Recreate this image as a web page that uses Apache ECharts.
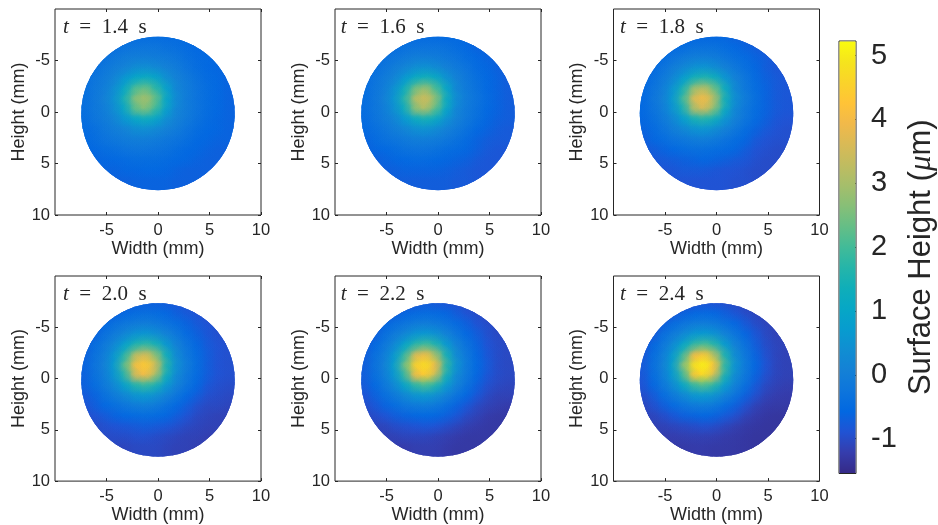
<!DOCTYPE html>
<html><head><meta charset="utf-8">
<style>html,body{margin:0;padding:0;background:#fff}#c{width:938px;height:525px}</style>
<script src="https://cdn.jsdelivr.net/npm/echarts@6/dist/echarts.min.js"></script></head>
<body><div id="c"></div>
<script>
const timeLabels = ['1.4','1.6','1.8','2.0','2.2','2.4'];
const axisTicks = [-5,0,5,10];
const barTicks = [-1,0,1,2,3,4,5];
const barRange = [-1.547,5.23];
const diskCentre = [0,0.15], diskRadius = 7.45;
// surface height (um); rows y=-7..7, each row centred on x=0, 1 mm spacing
const height14 = [
[-.5,-.45,-.45,-.45,-.45,-.5,-.5,-.55,-.6],
[-.45,-.4,-.3,-.25,-.25,-.25,-.35,-.4,-.5,-.55,-.6],
[-.45,-.35,-.2,-.1,-.05,-.05,-.1,-.15,-.25,-.4,-.5,-.55,-.6],
[-.5,-.4,-.2,-.05,.1,.35,.4,.25,.05,-.1,-.3,-.45,-.55,-.6,-.65],
[-.45,-.25,-.1,.15,.6,1,1.2,.95,.4,.05,-.15,-.35,-.5,-.55,-.65],
[-.4,-.2,-.05,.4,1.1,2.1,2.35,1.7,.85,.15,-.1,-.3,-.45,-.55,-.65],
[-.4,-.2,.05,.5,1.5,2.7,3,2.3,1,.25,-.1,-.3,-.45,-.55,-.65],
[-.4,-.2,-.05,.4,1.1,2.3,2.65,1.9,.85,.15,-.1,-.3,-.45,-.55,-.65],
[-.45,-.25,-.1,.15,.6,1,1.2,.95,.4,.05,-.15,-.35,-.5,-.6,-.65],
[-.5,-.4,-.2,-.05,.1,.35,.4,.25,.05,-.1,-.3,-.45,-.55,-.6,-.65],
[-.55,-.45,-.3,-.2,-.1,-.05,-.05,-.1,-.2,-.3,-.4,-.55,-.6,-.65,-.65],
[-.6,-.55,-.45,-.4,-.3,-.25,-.25,-.3,-.35,-.45,-.55,-.6,-.65,-.7,-.7],
[-.65,-.6,-.55,-.5,-.45,-.45,-.45,-.5,-.55,-.6,-.65,-.7,-.7],
[-.65,-.65,-.6,-.6,-.55,-.55,-.6,-.65,-.7,-.7,-.7],
[-.7,-.7,-.65,-.65,-.65,-.65,-.7,-.7,-.7]];
const height16 = [
[-.55,-.5,-.5,-.5,-.5,-.55,-.55,-.6,-.7],
[-.5,-.45,-.35,-.3,-.3,-.3,-.35,-.45,-.55,-.65,-.7],
[-.5,-.35,-.25,-.15,-.05,-.05,-.1,-.2,-.3,-.45,-.55,-.65,-.7],
[-.55,-.4,-.25,-.05,.15,.4,.45,.3,.05,-.15,-.3,-.5,-.6,-.7,-.75],
[-.5,-.3,-.1,.15,.65,1.15,1.4,1.1,.45,.05,-.2,-.4,-.55,-.65,-.75],
[-.45,-.25,-.05,.45,1.3,2.45,2.85,2,1,.15,-.15,-.35,-.55,-.65,-.75],
[-.45,-.25,.05,.6,1.7,3.2,3.5,2.7,1.2,.3,-.1,-.3,-.5,-.65,-.75],
[-.45,-.25,-.05,.45,1.3,2.75,3.15,2.2,1,.15,-.15,-.35,-.55,-.65,-.75],
[-.5,-.3,-.1,.15,.65,1.15,1.4,1.1,.45,.05,-.2,-.4,-.6,-.7,-.75],
[-.55,-.4,-.25,-.05,.15,.4,.45,.3,.05,-.15,-.35,-.55,-.65,-.75,-.8],
[-.65,-.5,-.35,-.25,-.15,-.05,-.05,-.1,-.2,-.35,-.5,-.65,-.75,-.8,-.8],
[-.7,-.6,-.55,-.45,-.35,-.3,-.3,-.35,-.45,-.5,-.6,-.7,-.8,-.85,-.85],
[-.75,-.65,-.6,-.55,-.5,-.5,-.55,-.6,-.65,-.7,-.8,-.85,-.85],
[-.75,-.7,-.65,-.65,-.65,-.65,-.7,-.75,-.8,-.85,-.85],
[-.75,-.75,-.75,-.75,-.75,-.75,-.8,-.8,-.85]];
const height18 = [
[-.65,-.6,-.6,-.6,-.6,-.6,-.7,-.75,-.85],
[-.6,-.5,-.45,-.35,-.35,-.35,-.45,-.55,-.65,-.75,-.85],
[-.6,-.45,-.3,-.15,-.05,-.05,-.1,-.25,-.4,-.5,-.65,-.75,-.85],
[-.65,-.5,-.3,-.05,.2,.45,.55,.35,.05,-.2,-.4,-.6,-.75,-.85,-.9],
[-.6,-.4,-.15,.2,.75,1.4,1.6,1.3,.55,.05,-.25,-.5,-.7,-.8,-.85],
[-.55,-.3,-.05,.55,1.5,2.85,3.2,2.35,1.2,.2,-.2,-.45,-.65,-.8,-.85],
[-.55,-.25,.05,.7,2,3.7,4,3.1,1.4,.35,-.1,-.4,-.65,-.8,-.85],
[-.55,-.3,-.05,.55,1.5,3.15,3.6,2.65,1.2,.2,-.2,-.45,-.65,-.8,-.85],
[-.6,-.4,-.15,.2,.75,1.4,1.6,1.3,.55,.05,-.25,-.5,-.7,-.85,-.9],
[-.65,-.5,-.3,-.05,.2,.45,.55,.35,.05,-.2,-.45,-.65,-.8,-.9,-.95],
[-.75,-.6,-.45,-.3,-.2,-.1,-.05,-.15,-.3,-.45,-.6,-.8,-.9,-.95,-.95],
[-.85,-.75,-.65,-.55,-.45,-.4,-.4,-.45,-.5,-.6,-.75,-.9,-.95,-1,-1],
[-.85,-.8,-.75,-.7,-.65,-.6,-.65,-.7,-.8,-.85,-.95,-1,-1],
[-.9,-.85,-.8,-.8,-.8,-.85,-.9,-.9,-.95,-1,-1],
[-.9,-.9,-.9,-.9,-.9,-.9,-.95,-.95,-1]];
const height20 = [
[-.8,-.75,-.7,-.7,-.7,-.75,-.85,-.9,-.95],
[-.75,-.65,-.55,-.45,-.4,-.45,-.55,-.7,-.8,-.9,-.95],
[-.7,-.55,-.35,-.2,-.1,-.05,-.15,-.3,-.45,-.65,-.8,-.9,-.95],
[-.8,-.65,-.35,-.1,.2,.5,.6,.4,.1,-.2,-.5,-.7,-.85,-.95,-1],
[-.7,-.45,-.15,.25,.85,1.55,1.8,1.45,.6,.05,-.3,-.6,-.8,-.9,-.95],
[-.7,-.35,-.05,.6,1.7,3.2,3.6,2.65,1.3,.25,-.2,-.5,-.75,-.9,-.95],
[-.65,-.3,.05,.75,2.3,4.1,4.4,3.5,1.55,.4,-.1,-.45,-.75,-.9,-.95],
[-.7,-.35,-.05,.6,1.7,3.6,4,2.95,1.3,.25,-.2,-.5,-.75,-.9,-.95],
[-.7,-.45,-.15,.25,.85,1.55,1.8,1.45,.6,.05,-.3,-.6,-.85,-.95,-1],
[-.8,-.65,-.35,-.1,.2,.5,.6,.4,.05,-.25,-.55,-.75,-.95,-1,-1.05],
[-.9,-.75,-.55,-.4,-.25,-.1,-.05,-.15,-.35,-.55,-.75,-.95,-1.05,-1.05,-1.1],
[-1,-.9,-.8,-.65,-.55,-.5,-.45,-.5,-.6,-.75,-.9,-1.05,-1.1,-1.15,-1.15],
[-1.05,-.95,-.9,-.85,-.8,-.75,-.8,-.85,-.95,-1.05,-1.1,-1.15,-1.15],
[-1.05,-1,-1,-.95,-.95,-1,-1.05,-1.1,-1.15,-1.15,-1.2],
[-1.1,-1.1,-1.05,-1.05,-1.05,-1.1,-1.15,-1.15,-1.2]];
const height22 = [
[-.9,-.85,-.8,-.75,-.8,-.85,-.95,-1,-1.05],
[-.85,-.7,-.6,-.5,-.45,-.5,-.6,-.75,-.9,-1,-1.05],
[-.8,-.6,-.4,-.25,-.1,-.05,-.15,-.3,-.5,-.7,-.9,-1,-1.05],
[-.9,-.7,-.4,-.1,.2,.55,.65,.45,.1,-.25,-.55,-.75,-.95,-1.05,-1.05],
[-.8,-.55,-.2,.25,.95,1.7,2,1.55,.65,.05,-.35,-.65,-.9,-1,-1.05],
[-.75,-.4,-.05,.65,1.85,3.6,4,2.9,1.4,.25,-.2,-.6,-.85,-1,-1.05],
[-.75,-.35,.05,.85,2.5,4.5,4.8,3.9,1.7,.45,-.15,-.55,-.8,-1,-1.05],
[-.75,-.4,-.05,.65,1.85,4,4.4,3.3,1.4,.25,-.2,-.6,-.85,-1,-1.05],
[-.8,-.55,-.2,.25,.95,1.7,2,1.55,.65,.05,-.35,-.7,-.95,-1.05,-1.1],
[-.9,-.7,-.4,-.15,.2,.5,.6,.4,.05,-.3,-.6,-.85,-1.05,-1.15,-1.15],
[-1,-.85,-.65,-.45,-.25,-.15,-.1,-.2,-.4,-.65,-.85,-1.05,-1.15,-1.2,-1.25],
[-1.1,-1,-.9,-.75,-.65,-.6,-.55,-.6,-.7,-.85,-1.05,-1.15,-1.25,-1.3,-1.3],
[-1.15,-1.1,-1,-.95,-.9,-.85,-.9,-1,-1.1,-1.2,-1.25,-1.3,-1.3],
[-1.2,-1.15,-1.1,-1.1,-1.1,-1.15,-1.2,-1.25,-1.3,-1.3,-1.3],
[-1.25,-1.25,-1.2,-1.2,-1.2,-1.25,-1.3,-1.3,-1.3]];
const height24 = [
[-1,-.95,-.9,-.85,-.9,-.95,-1.05,-1.1,-1.15],
[-.95,-.8,-.65,-.55,-.5,-.55,-.7,-.85,-1,-1.1,-1.15],
[-.9,-.7,-.45,-.25,-.1,-.05,-.15,-.35,-.55,-.8,-1,-1.1,-1.15],
[-1,-.8,-.4,-.1,.25,.6,.7,.5,.1,-.25,-.6,-.85,-1.05,-1.15,-1.15],
[-.9,-.6,-.2,.3,1,1.8,2.1,1.65,.7,.05,-.35,-.75,-1,-1.1,-1.15],
[-.85,-.45,-.05,.7,1.95,3.9,4.3,3.1,1.5,.3,-.2,-.65,-.95,-1.1,-1.15],
[-.8,-.4,.05,.9,2.7,4.8,5.1,4.2,1.8,.5,-.15,-.6,-.9,-1.1,-1.15],
[-.85,-.45,-.05,.7,1.95,4.3,4.7,3.5,1.5,.3,-.2,-.65,-.95,-1.1,-1.15],
[-.9,-.6,-.2,.3,1,1.8,2.1,1.65,.7,.05,-.4,-.8,-1.05,-1.15,-1.2],
[-1,-.8,-.45,-.15,.2,.55,.65,.45,.05,-.3,-.7,-.95,-1.15,-1.22,-1.25],
[-1.1,-.95,-.75,-.5,-.3,-.15,-.1,-.2,-.45,-.7,-.95,-1.15,-1.25,-1.28,-1.28],
[-1.15,-1.1,-1,-.85,-.7,-.65,-.6,-.65,-.8,-.95,-1.15,-1.25,-1.32,-1.35,-1.35],
[-1.2,-1.15,-1.1,-1.05,-1,-.95,-1,-1.1,-1.2,-1.28,-1.32,-1.35,-1.35],
[-1.25,-1.22,-1.2,-1.18,-1.18,-1.2,-1.25,-1.28,-1.32,-1.35,-1.35],
[-1.28,-1.28,-1.25,-1.25,-1.28,-1.28,-1.3,-1.32,-1.35]];
const panels = [height14,height16,height18,height20,height22,height24];
const parula = ['#352a87','#353dad','#2053d4','#0268e1','#0d75dc','#1481d6','#108ed2','#079ccf','#06a7c6','#0faeb9','#25b5a9','#42bb98','#65be86','#87bf77','#a5be6b','#c0bc60','#d9ba56','#f1b94a','#ffc337','#fad32a','#f5e41d','#f9fb0e'];

const lefts = [55,335,613.5], tops = [9,276], size = 206;
const ink = '#262626', font = 'Liberation Sans';
const grid=[], xAxis=[], yAxis=[], series=[], title=[], heatIdx=[];
const tx = [63,340.7,620];

function dataOf(rows){
  const out=[];
  rows.forEach((r,j)=>{ const y=j-7, off=(r.length-1)/2; r.forEach((v,i)=>out.push([i-off,y,v])); });
  return out;
}
function clip(api){
  const c=api.coord(diskCentre), r=api.size([diskRadius,0])[0];
  return {type:'circle',shape:{cx:c[0],cy:c[1],r:r}};
}
function baseItem(p,api){
  const c=api.coord([api.value(0),api.value(1)]), s=api.size([1,1]);
  const w=s[0]*1.3;
  return {type:'rect',shape:{x:c[0]-w/2,y:c[1]-w/2,width:w,height:w},style:{fill:api.visual('color')},clipPath:clip(api)};
}
function softItem(p,api){
  const c=api.coord([api.value(0),api.value(1)]), s=api.size([1,1]);
  const col=api.visual('color'), a=x=>echarts.color.modifyAlpha(col,x);
  return {type:'circle',shape:{cx:c[0],cy:c[1],r:s[0]*1.5},
    style:{fill:{type:'radial',x:.5,y:.5,r:.5,colorStops:[{offset:0,color:a(1)},{offset:.3,color:a(.75)},{offset:.6,color:a(.3)},{offset:1,color:a(0)}]}},
    clipPath:clip(api)};
}
panels.forEach((rows,i)=>{
  const col=i%3,row=i<3?0:1;
  grid.push({left:lefts[col],top:tops[row],width:size,height:size,show:true,borderColor:ink,borderWidth:1,backgroundColor:'#fff'});
  const common={type:'value',min:-10,max:10,gridIndex:i,splitLine:{show:false}};
  const tick={inside:true,length:3,lineStyle:{color:ink},customValues:axisTicks};
  const lab={color:ink,fontFamily:font,fontSize:16.5,customValues:axisTicks};
  xAxis.push({...common,position:'bottom',axisLine:{show:false,onZero:false},axisTick:tick,
    axisLabel:{...lab,margin:7},name:'Width (mm)',nameLocation:'middle',nameGap:22,
    nameTextStyle:{color:ink,fontFamily:font,fontSize:18}});
  yAxis.push({...common,inverse:true,position:'left',axisLine:{show:false,onZero:false},axisTick:tick,
    axisLabel:{...lab,margin:5},name:'Height (mm)',nameLocation:'middle',nameGap:25,
    nameTextStyle:{color:ink,fontFamily:font,fontSize:18}});
  const d=dataOf(rows);
  const base={type:'custom',coordinateSystem:'cartesian2d',xAxisIndex:i,yAxisIndex:i,data:d,
    encode:{x:0,y:1},animation:false,silent:true};
  heatIdx.push(series.length); series.push({...base,renderItem:baseItem,z:2});
  heatIdx.push(series.length); series.push({...base,renderItem:softItem,z:3});
  title.push({text:'{i|t}\u2002=\u2002'+timeLabels[i]+'\u2002s',left:tx[col]-5,top:tops[row]+3,
    textStyle:{rich:{
      i:{fontFamily:'Liberation Serif',fontStyle:'italic',fontSize:21,color:ink}},
      fontFamily:'Liberation Serif',fontSize:21,fontWeight:'normal',color:ink}});
});
// mirror ticks on top/right
panels.forEach((rows,i)=>{
  const tick={inside:true,length:3,lineStyle:{color:ink},customValues:axisTicks};
  xAxis.push({type:'value',min:-10,max:10,gridIndex:i,position:'top',axisLine:{show:false,onZero:false},axisTick:tick,axisLabel:{show:false},splitLine:{show:false}});
  yAxis.push({type:'value',min:-10,max:10,inverse:true,gridIndex:i,position:'right',axisLine:{show:false,onZero:false},axisTick:tick,axisLabel:{show:false},splitLine:{show:false}});
});
// colour bar
const cb=grid.length, cbAxis=xAxis.length;
grid.push({left:839,top:41,width:26.5,height:432.5,show:true,borderColor:ink,borderWidth:1});
xAxis.push({type:'value',gridIndex:cb,min:0,max:1,show:false});
yAxis.push({type:'value',gridIndex:cb,min:barRange[0],max:barRange[1],position:'right',
  axisLine:{show:false,onZero:false},splitLine:{show:false},
  axisTick:{inside:true,length:5,lineStyle:{color:ink},customValues:barTicks},
  axisLabel:{color:ink,fontFamily:font,fontSize:29,margin:15,customValues:barTicks},
  name:'Surface Height ({u|\u03bc}m)',nameLocation:'middle',nameRotate:90,nameGap:50,
  nameTextStyle:{color:ink,fontFamily:font,fontSize:31,rich:{u:{fontFamily:'Liberation Serif',fontStyle:'italic',fontSize:31,color:ink}}}});
series.push({type:'custom',coordinateSystem:'cartesian2d',xAxisIndex:cbAxis,yAxisIndex:cbAxis,animation:false,silent:true,
  data:[[0,barRange[0]]],encode:{x:0,y:1},z:1,
  renderItem:(p,api)=>{
    const a=api.coord([0,barRange[1]]),b=api.coord([1,barRange[0]]);
    return {type:'rect',shape:{x:a[0]+.5,y:a[1]+.5,width:b[0]-a[0]-1,height:b[1]-a[1]-1},
      style:{fill:{type:'linear',x:0,y:1,x2:0,y2:0,colorStops:parula.map((c,i)=>({offset:i/(parula.length-1),color:c}))}}};
  }});
const chart=echarts.init(document.getElementById('c'),null,{renderer:'canvas'});
chart.setOption({animation:false,backgroundColor:'#fff',grid,xAxis,yAxis,series,title,
  visualMap:{show:false,type:'continuous',seriesIndex:heatIdx,dimension:2,min:barRange[0],max:barRange[1],inRange:{color:parula}}});
</script></body></html>
